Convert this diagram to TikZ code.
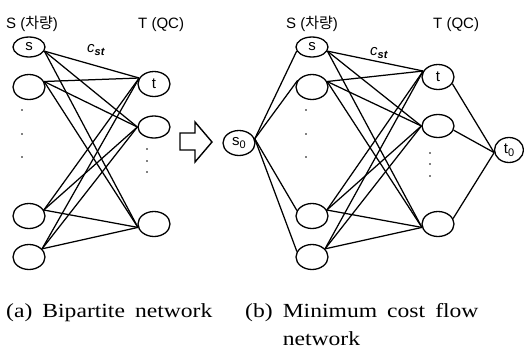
\documentclass[tikz,border=0pt]{standalone}
\usepackage{fontspec}
\setmainfont{Liberation Sans}
\newfontfamily\kr{Noto Sans CJK KR}
\newfontfamily\capfont[FakeStretch=1.18,WordSpace=1.7]{Liberation Serif}
\usetikzlibrary{shapes.geometric}

\tikzset{
  vertex/.style={draw, ellipse, line width=1.3pt, minimum width=32pt,
    minimum height=25pt, inner sep=0pt, font=\fontsize{15}{17}\selectfont},
  flat/.style={minimum height=20pt},
  edge/.style={line width=1.25pt},
  head/.style={inner sep=0pt, anchor=base west, font=\fontsize{15}{18}\selectfont},
  caption/.style={inner sep=0pt, anchor=base west, font=\capfont\fontsize{20}{24}\selectfont},
  cost/.style={inner sep=0pt, font=\fontsize{15}{18}\selectfont},
  dotmark/.style={fill, circle, inner sep=0pt, minimum size=1.8pt}
}
\newcommand{\subidx}[1]{\raisebox{-3pt}{\fontsize{11}{11}\selectfont #1}}

\begin{document}
\begin{tikzpicture}[x=1pt, y=-1pt]
\useasboundingbox (0,0) rectangle (524,349);

% ---------- (a) bipartite network ----------
\node[head] (hSa) at (6,28) {S ({\kr 차량})};
\node[head] (hTa) at (138,28) {T (QC)};

\node[vertex, flat] (as) at (29,47) {s};
\node[vertex] (a2) at (29,87) {};
\node[vertex] (a3) at (29,216) {};
\node[vertex] (a4) at (29,257) {};

\node[vertex] (at) at (154,84) {t};
\node[vertex, minimum height=22pt] (aT2) at (154,127) {};
\node[vertex] (aT3) at (154,224) {};

\foreach \yy [count=\k] in {110,134,157} \node[dotmark] (ads\k) at (22,\yy) {};
\foreach \yy [count=\k] in {149,161,172} \node[dotmark] (adt\k) at (147,\yy) {};

\foreach \u/\ua in {as/-15, a2/20, a3/22, a4/32}
  \foreach \v/\va in {at/158, aT2/180, aT3/192}
    \draw[edge] (\u.\ua) -- (\v.\va);

\node[cost] (acst) at (96,50) {\textit{c}\subidx{\textit{\textbf{st}}}};

% ---------- transition arrow ----------
\draw[line width=1.4pt, line join=miter]
  (180,133) -- (195,133) -- (195,122) -- (212,142) -- (195,162)
  -- (195,150) -- (180,150) -- cycle;

% ---------- (b) minimum cost flow network ----------
\node[head] (hSb) at (286,28) {S ({\kr 차량})};
\node[head] (hTb) at (433,28) {T (QC)};

\node[vertex] (bs0) at (239,143) {s\subidx{0}};

\node[vertex, flat] (bs) at (312,47) {s};
\node[vertex] (b2) at (312,87) {};
\node[vertex] (b3) at (312,216) {};
\node[vertex] (b4) at (312,257) {};

\node[vertex] (bt) at (438,77) {t};
\node[vertex, minimum height=23pt] (bT2) at (438,126) {};
\node[vertex] (bT3) at (438,224) {};

\node[vertex, minimum width=29pt] (bt0) at (509,150) {t\subidx{0}};

\foreach \yy [count=\k] in {110,134,157} \node[dotmark] (bds\k) at (306,\yy) {};
\foreach \yy [count=\k] in {153,164,176} \node[dotmark] (bdt\k) at (430,\yy) {};

\foreach \u/\ua in {bs/-15, b2/20, b3/22, b4/32}
  \foreach \v/\va in {bt/158, bT2/180, bT3/192}
    \draw[edge] (\u.\ua) -- (\v.\va);

\foreach \v/\va in {bs/195, b2/155, b3/160, b4/160}
  \draw[edge] (bs0.15) -- (\v.\va);

\foreach \u/\ua in {bt/-25, bT2/-15, bT3/20}
  \draw[edge] (\u.\ua) -- (bt0.190);

\node[cost] (bcst) at (379,53) {\textit{c}\subidx{\textit{\textbf{st}}}};

% ---------- captions ----------
\node[caption] (capa) at (6,317) {(a) Bipartite network};
\node[caption] (capb) at (245,317) {(b) Minimum cost flow};
\node[caption] (capb2) at (245,345) {\phantom{(b) }network};
\end{tikzpicture}
\end{document}
